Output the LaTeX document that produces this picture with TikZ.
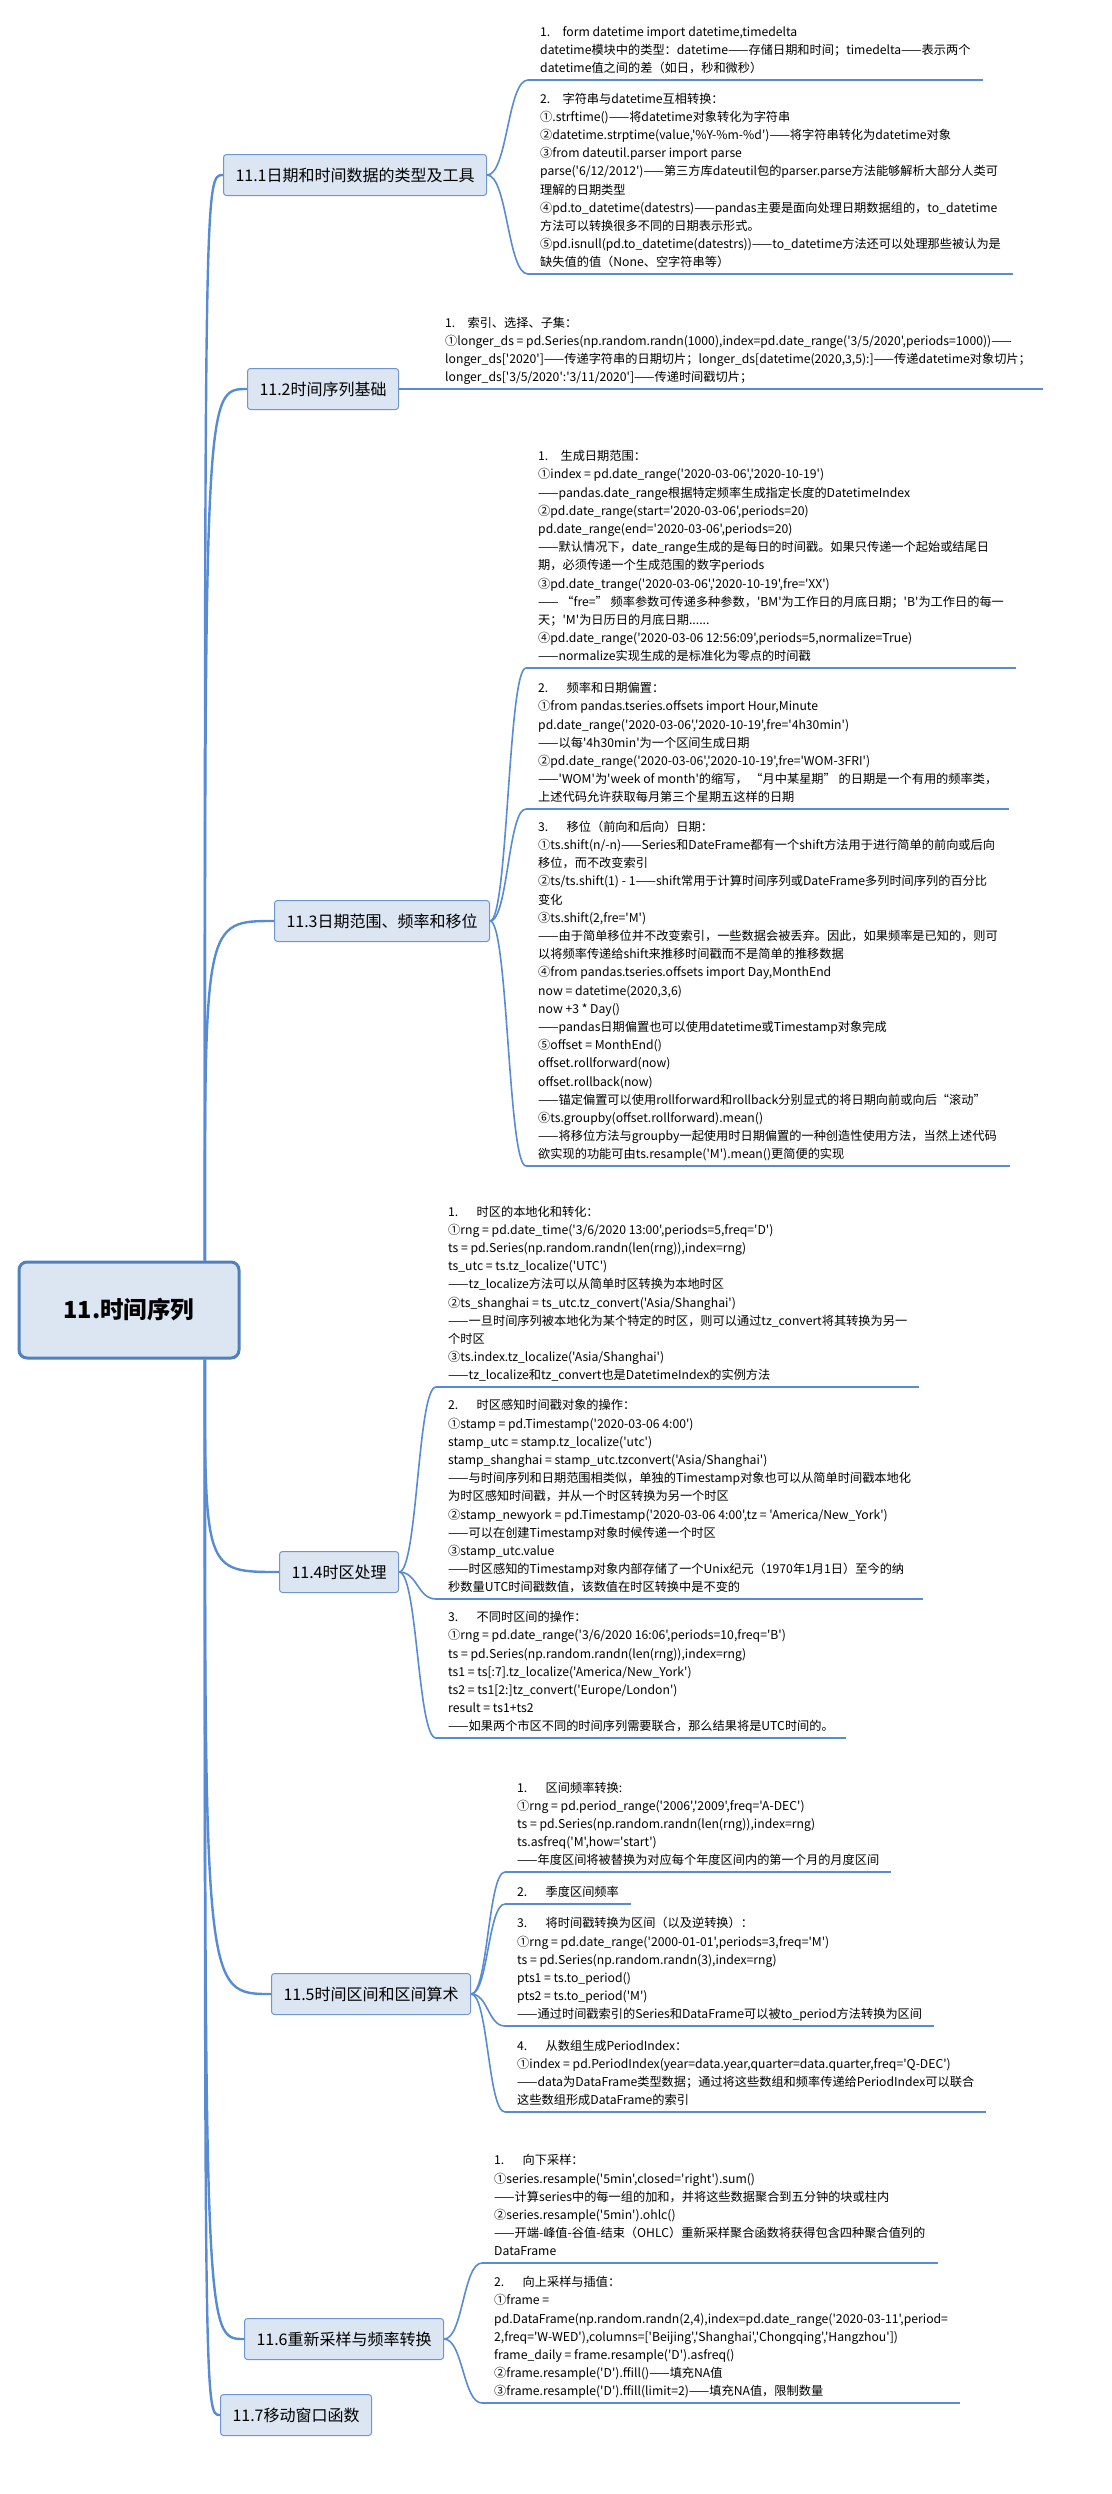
\documentclass[tikz,border=0pt]{standalone}
\usepackage{fontspec}
\newfontfamily\mapfont{Noto Sans CJK SC}
\usetikzlibrary{calc,positioning}

\definecolor{mapline}{RGB}{88,140,210}
\definecolor{topicfill}{RGB}{220,230,242}
\definecolor{topicedge}{RGB}{110,150,205}
\definecolor{rootedge}{RGB}{79,129,189}

\tikzset{
  root/.style={draw=rootedge, line width=3pt, fill=topicfill, rounded corners=8pt,
    minimum width=220pt, minimum height=96pt,
    font=\mapfont\bfseries\fontsize{23.5}{28}\selectfont},
  topic/.style={draw=topicedge, line width=1pt, fill=topicfill, rounded corners=3pt,
    anchor=west, inner xsep=12pt, minimum height=41pt,
    font=\mapfont\fontsize{16}{20}\selectfont},
  leaf/.style={anchor=south west, align=left, inner xsep=12pt, inner ysep=4pt,
    text depth=3pt, font=\mapfont\fontsize{12.2}{18.2}\selectfont},
  uline/.style={draw=mapline, line width=2.6pt},
  trunk/.style={draw=mapline, line width=2.4pt,
    to path={.. controls (\tikztostart |- \tikztotarget) .. (\tikztotarget)}},
  fork/.style={draw=mapline, line width=1.6pt,
    to path={.. controls ($(\tikztostart)!.5!(\tikztostart -| \tikztotarget)$)
      and ($(\tikztotarget)!.5!(\tikztotarget -| \tikztostart)$) .. (\tikztotarget)}}
}

\begin{document}
\begin{tikzpicture}[x=1pt,y=-1pt]
  \useasboundingbox (0,0) rectangle (1111,2494);

  % root and topics
  \node[root] (root) at (129,1310) {11.时间序列};
  \coordinate (rt) at ($(root.north west)!.84!(root.north east)$);
  \coordinate (rb) at ($(root.south west)!.84!(root.south east)$);

  \node[topic] (t1) at (223,175) {11.1日期和时间数据的类型及工具};
  \node[topic] (t2) at (247,389) {11.2时间序列基础};
  \node[topic] (t3) at (274,921) {11.3日期范围、频率和移位};
  \node[topic] (t4) at (279,1572) {11.4时区处理};
  \node[topic] (t5) at (271,1994) {11.5时间区间和区间算术};
  \node[topic] (t6) at (244,2339) {11.6重新采样与频率转换};
  \node[topic] (t7) at (220,2415) {11.7移动窗口函数};

  \foreach \t in {t1,t2,t3} \draw[trunk] (rt) to (\t.west);
  \foreach \t in {t4,t5,t6,t7} \draw[trunk] (rb) to (\t.west);

  % 11.1
  \node[leaf] (a1) at (528,80) {1.\quad form datetime import datetime,timedelta\\
    datetime模块中的类型：datetime——存储日期和时间；timedelta——表示两个\\
    datetime值之间的差（如日，秒和微秒）};
  \node[leaf] (a2) at (528,274) {2.\quad 字符串与datetime互相转换：\\
    ①.strftime()——将datetime对象转化为字符串\\
    ②datetime.strptime(value,'\%Y-\%m-\%d')——将字符串转化为datetime对象\\
    ③from dateutil.parser import parse\\
    parse('6/12/2012')——第三方库dateutil包的parser.parse方法能够解析大部分人类可\\
    理解的日期类型\\
    ④pd.to\_datetime(datestrs)——pandas主要是面向处理日期数据组的，to\_datetime\\
    方法可以转换很多不同的日期表示形式。\\
    ⑤pd.isnull(pd.to\_datetime(datestrs))——to\_datetime方法还可以处理那些被认为是\\
    缺失值的值（None、空字符串等）};

  % 11.2
  \node[leaf] (b1) at (433,389) {1.\quad 索引、选择、子集：\\
    ①longer\_ds = pd.Series(np.random.randn(1000),index=pd.date\_range('3/5/2020',periods=1000))——\\
    longer\_ds['2020']——传递字符串的日期切片；longer\_ds[datetime(2020,3,5):]——传递datetime对象切片；\\
    longer\_ds['3/5/2020':'3/11/2020']——传递时间戳切片；};

  % 11.3
  \node[leaf] (c1) at (526,668) {1.\quad 生成日期范围：\\
    ①index = pd.date\_range('2020-03-06','2020-10-19')\\
    ——pandas.date\_range根据特定频率生成指定长度的DatetimeIndex\\
    ②pd.date\_range(start='2020-03-06',periods=20)\\
    pd.date\_range(end='2020-03-06',periods=20)\\
    ——默认情况下，date\_range生成的是每日的时间戳。如果只传递一个起始或结尾日\\
    期，必须传递一个生成范围的数字periods\\
    ③pd.date\_trange('2020-03-06','2020-10-19',fre='XX')\\
    —— “fre=” 频率参数可传递多种参数，'BM'为工作日的月底日期；'B'为工作日的每一\\
    天；'M'为日历日的月底日期......\\
    ④pd.date\_range('2020-03-06 12:56:09',periods=5,normalize=True)\\
    ——normalize实现生成的是标准化为零点的时间戳};
  \node[leaf] (c2) at (526,809) {2.\hspace{1.5em}频率和日期偏置：\\
    ①from pandas.tseries.offsets import Hour,Minute\\
    pd.date\_range('2020-03-06','2020-10-19',fre='4h30min')\\
    ——以每'4h30min'为一个区间生成日期\\
    ②pd.date\_range('2020-03-06','2020-10-19',fre='WOM-3FRI')\\
    ——'WOM'为'week of month'的缩写， “月中某星期” 的日期是一个有用的频率类，\\
    上述代码允许获取每月第三个星期五这样的日期};
  \node[leaf] (c3) at (526,1166) {3.\hspace{1.5em}移位（前向和后向）日期：\\
    ①ts.shift(n/-n)——Series和DateFrame都有一个shift方法用于进行简单的前向或后向\\
    移位，而不改变索引\\
    ②ts/ts.shift(1) - 1——shift常用于计算时间序列或DateFrame多列时间序列的百分比\\
    变化\\
    ③ts.shift(2,fre='M')\\
    ——由于简单移位并不改变索引，一些数据会被丢弃。因此，如果频率是已知的，则可\\
    以将频率传递给shift来推移时间戳而不是简单的推移数据\\
    ④from pandas.tseries.offsets import Day,MonthEnd\\
    now = datetime(2020,3,6)\\
    now +3 * Day()\\
    ——pandas日期偏置也可以使用datetime或Timestamp对象完成\\
    ⑤offset = MonthEnd()\\
    offset.rollforward(now)\\
    offset.rollback(now)\\
    ——锚定偏置可以使用rollforward和rollback分别显式的将日期向前或向后“滚动”\\
    ⑥ts.groupby(offset.rollforward).mean()\\
    ——将移位方法与groupby一起使用时日期偏置的一种创造性使用方法，当然上述代码\\
    欲实现的功能可由ts.resample('M').mean()更简便的实现};

  % 11.4
  \node[leaf] (d1) at (436,1387) {1.\hspace{1.5em}时区的本地化和转化：\\
    ①rng = pd.date\_time('3/6/2020 13:00',periods=5,freq='D')\\
    ts = pd.Series(np.random.randn(len(rng)),index=rng)\\
    ts\_utc = ts.tz\_localize('UTC')\\
    ——tz\_localize方法可以从简单时区转换为本地时区\\
    ②ts\_shanghai = ts\_utc.tz\_convert('Asia/Shanghai')\\
    ——一旦时间序列被本地化为某个特定的时区，则可以通过tz\_convert将其转换为另一\\
    个时区\\
    ③ts.index.tz\_localize('Asia/Shanghai')\\
    ——tz\_localize和tz\_convert也是DatetimeIndex的实例方法};
  \node[leaf] (d2) at (436,1599) {2.\hspace{1.5em}时区感知时间戳对象的操作：\\
    ①stamp = pd.Timestamp('2020-03-06 4:00')\\
    stamp\_utc = stamp.tz\_localize('utc')\\
    stamp\_shanghai = stamp\_utc.tzconvert('Asia/Shanghai')\\
    ——与时间序列和日期范围相类似，单独的Timestamp对象也可以从简单时间戳本地化\\
    为时区感知时间戳，并从一个时区转换为另一个时区\\
    ②stamp\_newyork = pd.Timestamp('2020-03-06 4:00',tz = 'America/New\_York')\\
    ——可以在创建Timestamp对象时候传递一个时区\\
    ③stamp\_utc.value\\
    ——时区感知的Timestamp对象内部存储了一个Unix纪元（1970年1月1日）至今的纳\\
    秒数量UTC时间戳数值，该数值在时区转换中是不变的};
  \node[leaf] (d3) at (436,1738) {3.\hspace{1.5em}不同时区间的操作：\\
    ①rng = pd.date\_range('3/6/2020 16:06',periods=10,freq='B')\\
    ts = pd.Series(np.random.randn(len(rng)),index=rng)\\
    ts1 = ts[:7].tz\_localize('America/New\_York')\\
    ts2 = ts1[2:]tz\_convert('Europe/London')\\
    result = ts1+ts2\\
    ——如果两个市区不同的时间序列需要联合，那么结果将是UTC时间的。};

  % 11.5
  \node[leaf] (e1) at (505,1872) {1.\hspace{1.5em}区间频率转换:\\
    ①rng = pd.period\_range('2006','2009',freq='A-DEC')\\
    ts = pd.Series(np.random.randn(len(rng)),index=rng)\\
    ts.asfreq('M',how='start')\\
    ——年度区间将被替换为对应每个年度区间内的第一个月的月度区间};
  \node[leaf] (e2) at (505,1904) {2.\hspace{1.5em}季度区间频率};
  \node[leaf] (e3) at (505,2026) {3.\hspace{1.5em}将时间戳转换为区间（以及逆转换）：\\
    ①rng = pd.date\_range('2000-01-01',periods=3,freq='M')\\
    ts = pd.Series(np.random.randn(3),index=rng)\\
    pts1 = ts.to\_period()\\
    pts2 = ts.to\_period('M')\\
    ——通过时间戳索引的Series和DataFrame可以被to\_period方法转换为区间};
  \node[leaf] (e4) at (505,2112) {4.\hspace{1.5em}从数组生成PeriodIndex：\\
    ①index = pd.PeriodIndex(year=data.year,quarter=data.quarter,freq='Q-DEC')\\
    ——data为DataFrame类型数据；通过将这些数组和频率传递给PeriodIndex可以联合\\
    这些数组形成DataFrame的索引};

  % 11.6
  \node[leaf] (f1) at (482,2263) {1.\hspace{1.5em}向下采样：\\
    ①series.resample('5min',closed='right').sum()\\
    ——计算series中的每一组的加和，并将这些数据聚合到五分钟的块或柱内\\
    ②series.resample('5min').ohlc()\\
    ——开端-峰值-谷值-结束（OHLC）重新采样聚合函数将获得包含四种聚合值列的\\
    DataFrame};
  \node[leaf] (f2) at (482,2403) {2.\hspace{1.5em}向上采样与插值：\\
    ①frame =\\
    pd.DataFrame(np.random.randn(2,4),index=pd.date\_range('2020-03-11',period=\\
    2,freq='W-WED'),columns=['Beijing','Shanghai','Chongqing','Hangzhou'])\\
    frame\_daily = frame.resample('D').asfreq()\\
    ②frame.resample('D').ffill()——填充NA值\\
    ③frame.resample('D').ffill(limit=2)——填充NA值，限制数量};

  % underlines and links
  \foreach \l in {a1,a2,b1,c1,c2,c3,d1,d2,d3,e1,e2,e3,e4,f1,f2}
    \draw[uline] (\l.south west) -- (\l.south east);
  \foreach \t/\l in {t1/a1,t1/a2,t2/b1,t3/c1,t3/c2,t3/c3,t4/d1,t4/d2,t4/d3,
                     t5/e1,t5/e2,t5/e3,t5/e4,t6/f1,t6/f2}
    \draw[fork] (\t.east) to (\l.south west);
\end{tikzpicture}
\end{document}
